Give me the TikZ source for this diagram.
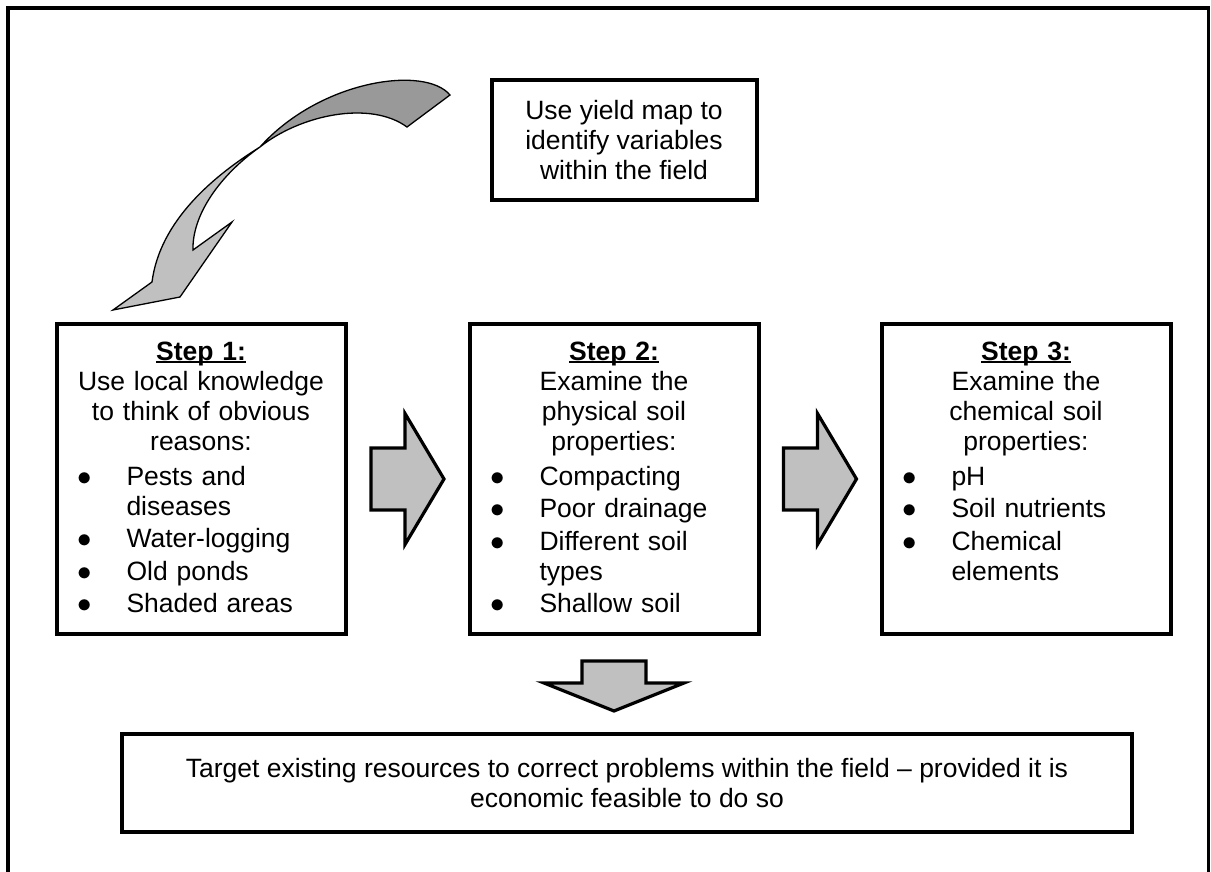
\documentclass[tikz,border=0pt]{standalone}
\usepackage{fontspec}
\setmainfont{Liberation Sans}
\usetikzlibrary{positioning,calc}
\definecolor{silver}{HTML}{C0C0C0}
\definecolor{darksilver}{HTML}{999999}
\newsavebox{\headbox}
\newcommand{\stephead}[1]{\sbox{\headbox}{\textbf{#1}}\usebox{\headbox}\llap{\rule[-1.6pt]{\wd\headbox}{1pt}}}
\newcommand{\bul}[1]{\par\vspace{1.25pt}\noindent\hangindent=35pt\hspace*{10.7pt}\makebox[24.3pt][l]{$\bullet$}#1}

\begin{document}
\begin{tikzpicture}[x=0.5pt,y=-0.5pt,font=\fontsize{13.25}{15}\selectfont,
    box/.style={draw,line width=2pt,align=center},
    stepbox/.style={draw,line width=2pt,text width=144.5pt,inner xsep=0pt,inner ysep=0pt,
        text height=18pt,text depth=137pt},
    blockarrow/.style={draw,line width=1.6pt,fill=silver},
    rarrow/.pic={\path[blockarrow] (-36.5,-31) -- (-2.5,-31) -- (-2.5,-65.5) -- (36.5,0)
        -- (-2.5,65.5) -- (-2.5,31) -- (-36.5,31) -- cycle;},
    darrow/.pic={\path[blockarrow] (-32,0) -- (32,0) -- (32,22) -- (70,22) -- (0,50)
        -- (-70,22) -- (-32,22) -- cycle;}]
    \useasboundingbox (0,0) rectangle (1211,872);
    \draw[line width=1.75pt] (8,872) -- (8,8) -- (1208.5,8) -- (1208.5,872);

    % the three steps
    \node[stepbox,anchor=north] (s1) at (201,322) {%
        {\centering\stephead{Step 1:}\\Use local knowledge\\to think of obvious\\reasons:\par}
        \raggedright\vspace{1.25pt}
        \bul{Pests and\newline diseases}
        \bul{Water-logging}
        \bul{Old ponds}
        \bul{Shaded areas}\par};
    \node[stepbox,right=60pt of s1] (s2) {%
        {\centering\stephead{Step 2:}\\Examine the\\physical soil\\properties:\par}
        \raggedright\vspace{1.25pt}
        \bul{Compacting}
        \bul{Poor drainage}
        \bul{Different soil\newline types}
        \bul{Shallow soil}\par};
    \node[stepbox,right=59.5pt of s2] (s3) {%
        {\centering\stephead{Step 3:}\\Examine the\\chemical soil\\properties:\par}
        \raggedright\vspace{1.25pt}
        \bul{pH}
        \bul{Soil nutrients}
        \bul{Chemical\newline elements}\par};
    \node[box,minimum width=132.5pt,minimum height=60pt,above=60pt of s2,xshift=5pt] (yield)
        {Use yield map to\\identify variables\\within the field};
    \node[box,minimum width=505pt,minimum height=49pt,below=48pt of s2,xshift=6.5pt] (target)
        {Target existing resources to correct problems within the field -- provided it is\\economic feasible to do so};

    % block arrows between the boxes
    \path ($(s1.east)!.5!(s2.west)$) pic {rarrow};
    \path ($(s2.east)!.5!(s3.west)$) pic {rarrow};
    \path (s2.south) ++(0,25) pic {darrow};

    % twisted arrow from the yield map box to step 1
    \filldraw[fill=darksilver,line width=0.65pt] (450,95) .. controls (425,65) and (320,80) .. (260,147)
        .. controls (300,115) and (370,100) .. (407,127) -- cycle;
    \filldraw[fill=silver,line width=0.65pt] (260,147) .. controls (215,175) and (160,220) .. (152,282)
        -- (113,310) -- (180,297) -- (232,222) -- (193,250)
        .. controls (192,215) and (220,175) .. (260,147) -- cycle;
\end{tikzpicture}
\end{document}
